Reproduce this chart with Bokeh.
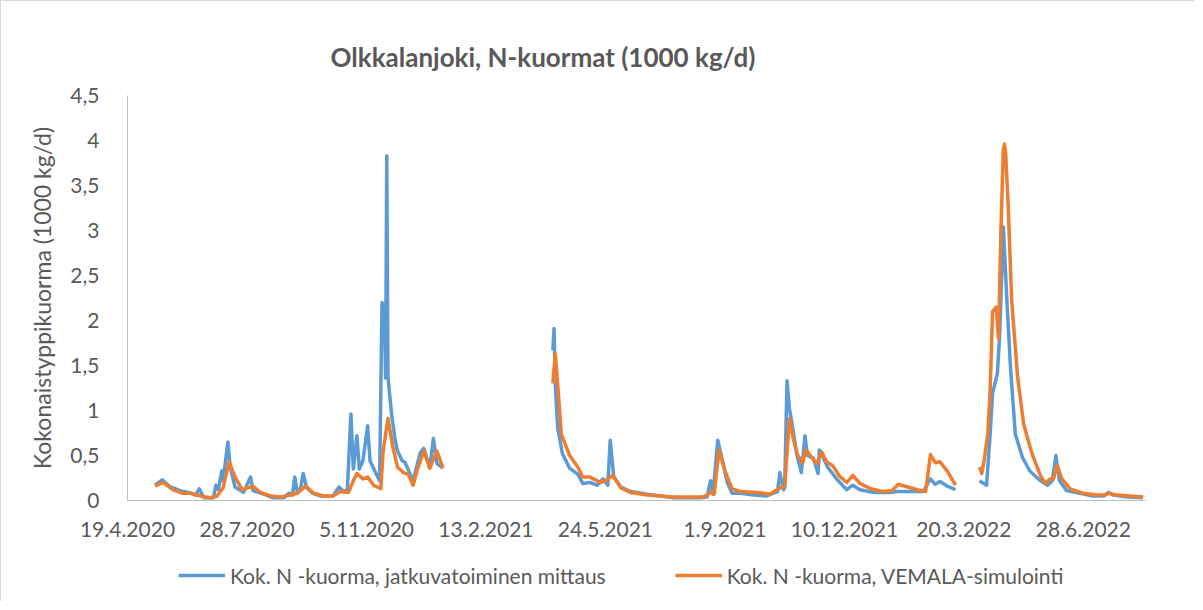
import numpy as np
import pandas as pd
from bokeh.plotting import figure
from bokeh.layouts import column
from bokeh.models import Range1d, FixedTicker, Legend, LegendItem, Title
from bokeh.embed import file_html
from bokeh.resources import INLINE

# --- data: measured (continuous monitoring) N load, 1000 kg/d ---
mitt_dates = [
    "2020-05-12", "2020-05-18", "2020-05-25", "2020-06-02", "2020-06-09", "2020-06-15",
    "2020-06-18", "2020-06-22", "2020-06-30", "2020-07-02", "2020-07-04", "2020-07-07",
    "2020-07-08", "2020-07-12", "2020-07-14", "2020-07-18", "2020-07-25", "2020-07-31",
    "2020-08-02", "2020-08-11", "2020-08-19", "2020-08-28", "2020-09-01", "2020-09-04",
    "2020-09-06", "2020-09-08", "2020-09-11", "2020-09-13", "2020-09-16", "2020-09-21",
    "2020-09-28", "2020-10-08", "2020-10-13", "2020-10-17", "2020-10-20", "2020-10-23",
    "2020-10-25", "2020-10-28", "2020-10-30", "2020-11-02", "2020-11-06", "2020-11-08",
    "2020-11-13", "2020-11-16", "2020-11-18", "2020-11-20", "2020-11-21", "2020-11-22",
    "2020-11-23", "2020-11-26", "2020-11-29", "2020-12-01", "2020-12-05", "2020-12-07",
    "2020-12-11", "2020-12-14", "2020-12-20", "2020-12-23", "2020-12-28", "2020-12-31",
    "2021-01-03", "2021-01-08",
    "2021-02-20",
    "2021-04-10", "2021-04-11", "2021-04-12", "2021-04-14", "2021-04-18", "2021-04-24",
    "2021-05-01", "2021-05-05", "2021-05-11", "2021-05-17", "2021-05-22", "2021-05-26",
    "2021-05-28", "2021-05-31", "2021-06-06", "2021-06-14", "2021-06-28", "2021-07-20",
    "2021-08-11", "2021-08-17", "2021-08-20", "2021-08-22", "2021-08-26", "2021-08-30",
    "2021-09-03", "2021-09-07", "2021-09-14", "2021-09-25", "2021-10-06", "2021-10-11",
    "2021-10-15", "2021-10-17", "2021-10-20", "2021-10-21", "2021-10-23", "2021-10-25",
    "2021-10-28", "2021-10-31", "2021-11-04", "2021-11-07", "2021-11-09", "2021-11-14",
    "2021-11-18", "2021-11-19", "2021-11-22", "2021-11-26", "2021-12-04", "2021-12-12",
    "2021-12-17", "2021-12-23", "2022-01-03", "2022-01-17", "2022-01-23", "2022-02-01",
    "2022-02-14", "2022-02-20", "2022-02-24", "2022-02-28", "2022-03-06", "2022-03-13",
    "2022-03-25",
    "2022-04-02", "2022-04-08", "2022-04-11", "2022-04-13", "2022-04-17", "2022-04-19",
    "2022-04-22", "2022-04-25", "2022-04-28", "2022-05-02", "2022-05-08", "2022-05-14",
    "2022-05-23", "2022-05-29", "2022-06-02", "2022-06-05", "2022-06-08", "2022-06-14",
    "2022-06-25", "2022-07-06", "2022-07-15", "2022-07-19", "2022-07-23", "2022-08-04",
    "2022-08-17",
]
mitt_vals = [
    0.17, 0.23, 0.15, 0.11, 0.09, 0.06,
    0.13, 0.03, 0.03, 0.17, 0.12, 0.33,
    0.22, 0.65, 0.37, 0.15, 0.09, 0.26,
    0.11, 0.07, 0.03, 0.03, 0.08, 0.06,
    0.26, 0.10, 0.14, 0.30, 0.14, 0.08,
    0.05, 0.05, 0.15, 0.10, 0.12, 0.96,
    0.35, 0.72, 0.35, 0.44, 0.83, 0.44,
    0.30, 0.22, 2.20, 2.15, 1.36, 3.83,
    1.37, 0.96, 0.67, 0.55, 0.44, 0.43,
    0.31, 0.22, 0.53, 0.58, 0.36, 0.69,
    0.41, 0.36,
    None,
    1.67, 1.91, 1.30, 0.81, 0.52, 0.36,
    0.29, 0.19, 0.20, 0.17, 0.24, 0.17,
    0.67, 0.26, 0.15, 0.10, 0.07, 0.03,
    0.03, 0.04, 0.22, 0.07, 0.67, 0.44,
    0.20, 0.08, 0.08, 0.06, 0.05, 0.08,
    0.10, 0.31, 0.12, 0.14, 1.33, 1.02,
    0.79, 0.52, 0.31, 0.72, 0.50, 0.47,
    0.30, 0.56, 0.48, 0.37, 0.23, 0.12,
    0.17, 0.12, 0.09, 0.09, 0.10, 0.10,
    0.10, 0.24, 0.18, 0.21, 0.16, 0.12,
    None,
    0.22, 0.17, 0.74, 1.19, 1.41, 1.85,
    3.04, 2.22, 1.48, 0.74, 0.48, 0.33,
    0.22, 0.17, 0.22, 0.50, 0.22, 0.11,
    0.08, 0.05, 0.05, 0.09, 0.06, 0.04,
    0.03,
]

# --- data: VEMALA simulation N load, 1000 kg/d ---
sim_dates = [
    "2020-05-12", "2020-05-19", "2020-05-27", "2020-06-04", "2020-06-11", "2020-06-19",
    "2020-06-27", "2020-07-03", "2020-07-08", "2020-07-13", "2020-07-18", "2020-07-24",
    "2020-07-31", "2020-08-02", "2020-08-08", "2020-08-17", "2020-08-25", "2020-09-02",
    "2020-09-08", "2020-09-15", "2020-09-22", "2020-09-30", "2020-10-08", "2020-10-14",
    "2020-10-21", "2020-10-25", "2020-10-28", "2020-11-02", "2020-11-06", "2020-11-11",
    "2020-11-17", "2020-11-19", "2020-11-23", "2020-11-27", "2020-12-01", "2020-12-06",
    "2020-12-10", "2020-12-14", "2020-12-18", "2020-12-23", "2020-12-28", "2021-01-03",
    "2021-01-08",
    "2021-02-20",
    "2021-04-10", "2021-04-12", "2021-04-14", "2021-04-17", "2021-04-24", "2021-05-01",
    "2021-05-05", "2021-05-11", "2021-05-20", "2021-05-24", "2021-05-30", "2021-06-06",
    "2021-06-14", "2021-06-28", "2021-07-20", "2021-08-14", "2021-08-20", "2021-08-23",
    "2021-08-27", "2021-09-01", "2021-09-07", "2021-09-14", "2021-09-28", "2021-10-09",
    "2021-10-11", "2021-10-17", "2021-10-21", "2021-10-25", "2021-10-28", "2021-11-01",
    "2021-11-05", "2021-11-08", "2021-11-13", "2021-11-17", "2021-11-21", "2021-11-25",
    "2021-11-30", "2021-12-06", "2021-12-12", "2021-12-17", "2021-12-23", "2022-01-01",
    "2022-01-11", "2022-01-19", "2022-01-24", "2022-02-01", "2022-02-09", "2022-02-16",
    "2022-02-20", "2022-02-24", "2022-02-28", "2022-03-06", "2022-03-13",
    "2022-03-25",
    "2022-04-02", "2022-04-04", "2022-04-06", "2022-04-09", "2022-04-11", "2022-04-13",
    "2022-04-16", "2022-04-18", "2022-04-20", "2022-04-22", "2022-04-23", "2022-04-24",
    "2022-04-26", "2022-04-29", "2022-05-04", "2022-05-09", "2022-05-16", "2022-05-23",
    "2022-05-27", "2022-05-31", "2022-06-03", "2022-06-06", "2022-06-10", "2022-06-17",
    "2022-06-28", "2022-07-10", "2022-07-16", "2022-07-19", "2022-07-26", "2022-08-17",
]
sim_vals = [
    0.16, 0.20, 0.12, 0.08, 0.08, 0.05,
    0.03, 0.05, 0.14, 0.43, 0.26, 0.12,
    0.15, 0.16, 0.09, 0.05, 0.04, 0.06,
    0.08, 0.16, 0.08, 0.05, 0.05, 0.10,
    0.09, 0.22, 0.30, 0.24, 0.26, 0.17,
    0.13, 0.55, 0.91, 0.60, 0.37, 0.31,
    0.29, 0.17, 0.36, 0.55, 0.36, 0.55,
    0.36,
    None,
    1.30, 1.63, 1.30, 0.74, 0.50, 0.37,
    0.26, 0.26, 0.20, 0.22, 0.28, 0.14,
    0.09, 0.06, 0.04, 0.04, 0.09, 0.07,
    0.56, 0.33, 0.13, 0.10, 0.09, 0.07,
    0.09, 0.14, 0.16, 0.91, 0.70, 0.50,
    0.42, 0.56, 0.47, 0.41, 0.54, 0.43,
    0.39, 0.27, 0.20, 0.28, 0.19, 0.13,
    0.10, 0.11, 0.18, 0.15, 0.12, 0.10,
    0.51, 0.42, 0.43, 0.33, 0.17,
    None,
    0.37, 0.30, 0.45, 0.74, 1.22, 2.10,
    2.15, 1.80, 3.00, 3.90, 3.96, 3.85,
    3.30, 2.22, 1.37, 0.85, 0.52, 0.28,
    0.19, 0.24, 0.24, 0.39, 0.24, 0.13,
    0.08, 0.06, 0.06, 0.08, 0.06, 0.04,
]

tick_dates = ["2020-04-19", "2020-07-28", "2020-11-05", "2021-02-13", "2021-05-24",
              "2021-09-01", "2021-12-10", "2022-03-20", "2022-06-28"]
tick_labels = ["19.4.2020", "28.7.2020", "5.11.2020", "13.2.2021", "24.5.2021",
               "1.9.2021", "10.12.2021", "20.3.2022", "28.6.2022"]
y_ticks = [0, 0.5, 1, 1.5, 2, 2.5, 3, 3.5, 4, 4.5]
y_labels = ["0", "0,5", "1", "1,5", "2", "2,5", "3", "3,5", "4", "4,5"]

x_start, x_end = "2020-04-19", "2022-08-19"

title_text = "Olkkalanjoki, N-kuormat (1000 kg/d)"
y_title = "Kokonaistyppikuorma (1000 kg/d)"
label_mitt = "Kok. N -kuorma, jatkuvatoiminen mittaus"
label_sim = "Kok. N -kuorma, VEMALA-simulointi"

FONT = "Lato"
TXT = "#595959"
AX = "#bfbfbf"
BLUE = "#5B9BD5"
ORANGE = "#ED7D31"

mx = pd.to_datetime(mitt_dates)
my = np.array([np.nan if v is None else v for v in mitt_vals], dtype=float)
sx = pd.to_datetime(sim_dates)
sy = np.array([np.nan if v is None else v for v in sim_vals], dtype=float)

# ---------------- main chart ----------------
p = figure(width=1194, height=549, x_axis_type="datetime",
           x_range=Range1d(pd.Timestamp(x_start), pd.Timestamp(x_end)),
           y_range=Range1d(0, 4.5),
           output_backend="svg", toolbar_location=None,
           min_border_left=126, min_border_right=50,
           min_border_top=94, min_border_bottom=50)
p.styles = {"border-left": "1px solid #d9d9d9", "border-top": "1px solid #d9d9d9"}

p.title = Title(text=title_text, align="left", offset=203, standoff=45,
                text_font=FONT, text_font_size="26px", text_font_style="bold",
                text_color=TXT)

p.xgrid.visible = False
p.ygrid.visible = False
p.outline_line_color = None
p.background_fill_color = "white"
p.border_fill_color = "white"

tick_ms = [int(pd.Timestamp(d).timestamp() * 1000) for d in tick_dates]
p.xaxis.ticker = FixedTicker(ticks=tick_ms)
p.xaxis.major_label_overrides = {t: l for t, l in zip(tick_ms, tick_labels)}
p.yaxis.ticker = FixedTicker(ticks=y_ticks)
p.yaxis.major_label_overrides = {t: l for t, l in zip(y_ticks, y_labels)}

for ax in (p.xaxis, p.yaxis):
    ax.axis_line_color = AX
    ax.axis_line_width = 1
    ax.major_tick_line_color = None
    ax.minor_tick_line_color = None
    ax.major_label_text_font = FONT
    ax.major_label_text_font_size = "21px"
    ax.major_label_text_color = TXT
p.xaxis.major_label_standoff = 15
p.yaxis.major_label_standoff = 22
p.yaxis.axis_label = y_title
p.yaxis.axis_label_text_font = FONT
p.yaxis.axis_label_text_font_size = "23px"
p.yaxis.axis_label_text_font_style = "normal"
p.yaxis.axis_label_text_color = TXT
p.yaxis.axis_label_standoff = 11

p.line(mx, my, line_color=BLUE, line_width=3.5, line_join="round")
p.line(sx, sy, line_color=ORANGE, line_width=3.5, line_join="round")

# ---------------- legend strip below the chart ----------------
lg = figure(width=1194, height=52, output_backend="svg", toolbar_location=None,
            x_axis_location=None, y_axis_location=None,
            min_border=0, min_border_left=0, min_border_right=0,
            min_border_top=0, min_border_bottom=0)
lg.styles = {"border-left": "1px solid #d9d9d9"}
lg.outline_line_color = None
lg.xgrid.visible = False
lg.ygrid.visible = False
lg.background_fill_color = "white"
lg.border_fill_color = "white"
# key-only renderers (a single missing point, nothing is drawn in the strip)
k1 = lg.line(x=[np.nan], y=[np.nan], line_color=BLUE, line_width=3.5)
k2 = lg.line(x=[np.nan], y=[np.nan], line_color=ORANGE, line_width=3.5)

legend = Legend(items=[LegendItem(label=label_mitt, renderers=[k1]),
                       LegendItem(label=label_sim, renderers=[k2])],
                location=(51, 13), orientation="horizontal",
                glyph_width=47, glyph_height=26, label_standoff=5, spacing=69,
                padding=0, margin=0, border_line_color=None,
                background_fill_alpha=0,
                label_text_font=FONT, label_text_font_size="21px",
                label_text_color=TXT)
lg.add_layout(legend)

layout = column(p, lg, spacing=0)
open("out.html", "w").write(file_html(layout, INLINE))
